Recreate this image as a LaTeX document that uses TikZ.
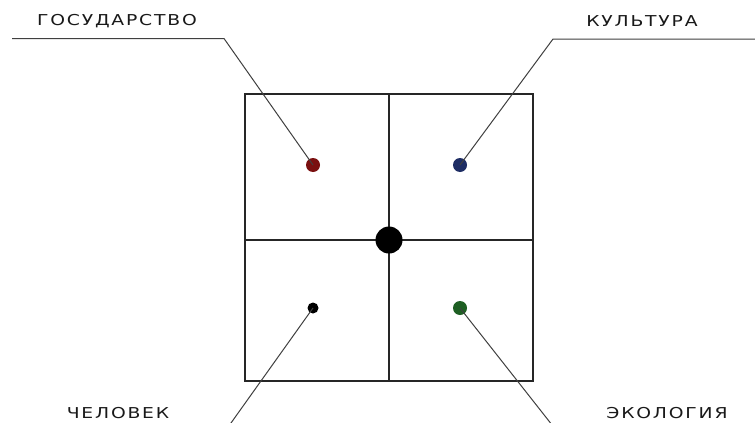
\documentclass[tikz,border=0pt]{standalone}
\usepackage{fontspec}
\setmainfont{DejaVu Sans}[LetterSpace=12,FakeStretch=1.25]
\definecolor{cgos}{RGB}{122,16,16}
\definecolor{ckul}{RGB}{30,45,100}
\definecolor{ceko}{RGB}{30,95,35}
\begin{document}
\begin{tikzpicture}[x=1pt,y=-1pt,
  frame/.style={draw=black!85,line width=1.8pt},
  lead/.style={draw=black!75,line width=1pt},
  dot/.style={circle,inner sep=0pt,minimum size=14pt,fill=#1},
  lbl/.style={font=\fontsize{15}{17}\selectfont,text=black!90,inner sep=0pt}]
\useasboundingbox (0,0) rectangle (755,423);
\clip (0,0) rectangle (755,423);
\fill[white] (0,0) rectangle (755,423);
% square
\draw[frame] (245,94) rectangle (533,381);
\draw[frame] (389,94) -- (389,381);
\draw[frame] (245,240) -- (533,240);
% dots
\node[dot=cgos] (gos) at (313,165) {};
\node[dot=ckul] (kul) at (460,165) {};
\node[dot=black,minimum size=11pt] (chel) at (313,308) {};
\node[dot=ceko] (eko) at (460,308) {};
\node[dot=black,minimum size=27pt] (center) at (389,240) {};
% labels
\node[lbl] (tgos) at (117,21) {ГОСУДАРСТВО};
\node[lbl] (tkul) at (642,21) {КУЛЬТУРА};
\node[lbl] (tchel) at (118,413) {ЧЕЛОВЕК};
\node[lbl] (teko) at (667,413) {ЭКОЛОГИЯ};
% leader lines
\coordinate (g1) at (12,38.5);
\coordinate (g2) at (224,38.5);
\coordinate (k1) at (553,39);
\coordinate (k2) at (755,39);
\coordinate (c1) at (226,430);
\coordinate (e1) at (556,430);
\draw[lead] (g1) -- (g2) -- (gos.center);
\draw[lead] (k2) -- (k1) -- (kul.center);
\draw[lead] (chel.center) -- (c1);
\draw[lead] (eko.center) -- (e1);
\end{tikzpicture}
\end{document}
